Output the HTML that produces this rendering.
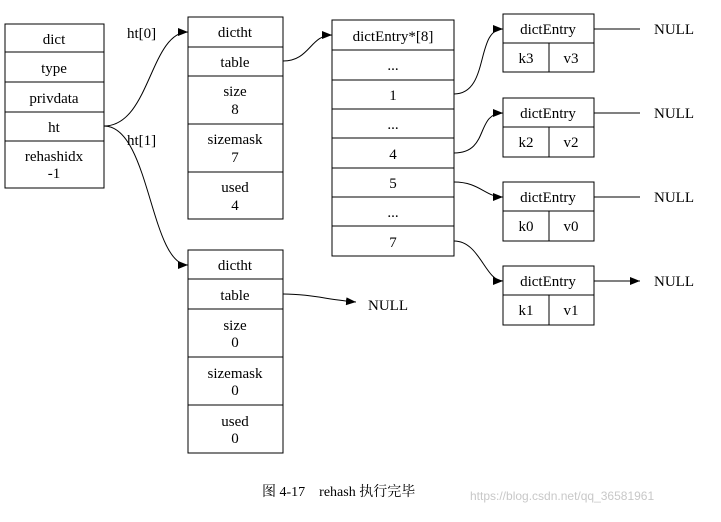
<!DOCTYPE html>
<html><head><meta charset="utf-8"><style>
body{margin:0;background:#fff;width:721px;height:517px;overflow:hidden}
svg text{font-family:"Liberation Serif","Noto Serif CJK SC",serif;font-size:15px;fill:#000}
</style></head><body>
<svg width="721" height="517" xmlns="http://www.w3.org/2000/svg">
<defs><marker id="a" markerWidth="10" markerHeight="8" refX="10" refY="4" orient="auto" markerUnits="userSpaceOnUse"><path d="M0,0L10,4L0,8z" fill="#000"/></marker></defs>
<g fill="none" stroke="#000" stroke-width="1">
<rect x="5" y="24" width="99" height="164"/>
<path d="M5 52H104M5 82H104M5 112H104M5 141H104"/>
<rect x="188" y="17" width="95" height="202"/>
<path d="M188 47H283M188 76H283M188 124H283M188 172H283"/>
<rect x="188" y="250" width="95" height="203"/>
<path d="M188 279H283M188 309H283M188 357H283M188 405H283"/>
<rect x="332" y="20" width="122" height="236"/>
<path d="M332 50H454M332 80H454M332 109H454M332 138H454M332 168H454M332 197H454M332 226H454"/>
<rect x="503" y="14" width="91" height="58"/><path d="M503 43H594M549 43V72"/>
<rect x="503" y="98" width="91" height="59"/><path d="M503 127H594M549 127V157"/>
<rect x="503" y="182" width="91" height="59"/><path d="M503 211H594M549 211V241"/>
<rect x="503" y="266" width="91" height="59"/><path d="M503 295H594M549 295V325"/>
<g marker-end="url(#a)">
<path d="M104 126C150 126 150 32 188 32"/>
<path d="M104 126C150 126 150 265 188 265"/>
<path d="M283 61C310 61 310 35 332 35"/>
<path d="M283 294C310 294 330 300 356 302"/>
<path d="M454 94C490 94 475 29 503 29"/>
<path d="M454 153C490 153 475 113 503 113"/>
<path d="M454 182C480 182 485 197 503 197"/>
<path d="M454 241C480 241 485 281 503 281"/>
<path d="M594 29H640M594 113H640M594 197H640M594 281H640"/>
</g></g>
<g text-anchor="middle">
<text x="54" y="44">dict</text><text x="54" y="73">type</text><text x="54" y="103">privdata</text><text x="54" y="132">ht</text>
<text x="54" y="161">rehashidx</text><text x="54" y="178">-1</text>
<text x="235" y="37">dictht</text><text x="235" y="67">table</text>
<text x="235" y="96">size</text><text x="235" y="114">8</text>
<text x="235" y="144">sizemask</text><text x="235" y="162">7</text>
<text x="235" y="192">used</text><text x="235" y="210">4</text>
<text x="235" y="270">dictht</text><text x="235" y="300">table</text>
<text x="235" y="330">size</text><text x="235" y="347">0</text>
<text x="235" y="378">sizemask</text><text x="235" y="395">0</text>
<text x="235" y="426">used</text><text x="235" y="443">0</text>
<text x="393" y="41">dictEntry*[8]</text><text x="393" y="70">...</text><text x="393" y="100">1</text>
<text x="393" y="129">...</text><text x="393" y="159">4</text><text x="393" y="188">5</text>
<text x="393" y="217">...</text><text x="393" y="247">7</text>
<text x="548" y="34">dictEntry</text><text x="526" y="63">k3</text><text x="571" y="63">v3</text>
<text x="548" y="118">dictEntry</text><text x="526" y="147">k2</text><text x="571" y="147">v2</text>
<text x="548" y="202">dictEntry</text><text x="526" y="231">k0</text><text x="571" y="231">v0</text>
<text x="548" y="286">dictEntry</text><text x="526" y="315">k1</text><text x="571" y="315">v1</text>
</g>
<text x="127" y="38">ht[0]</text><text x="127" y="145">ht[1]</text>
<text x="654" y="34">NULL</text><text x="654" y="118">NULL</text><text x="654" y="202">NULL</text><text x="654" y="286">NULL</text>
<text x="368" y="310">NULL</text>
<text x="262" y="496" style="font-size:14px">图 4-17　rehash 执行完毕</text>
<text x="470" y="500" style="font-size:12px;fill:#c8c8c8;font-family:'Liberation Sans',sans-serif">https://blog.csdn.net/qq_36581961</text>
</svg>
</body></html>
